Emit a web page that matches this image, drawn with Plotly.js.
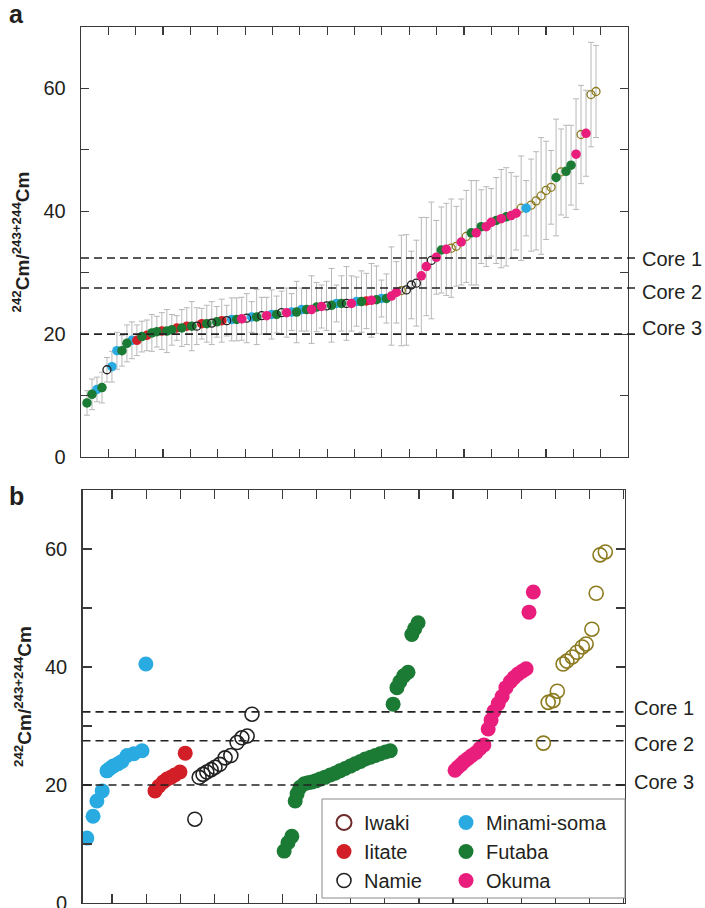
<!DOCTYPE html>
<html><head><meta charset="utf-8">
<script src="https://cdn.plot.ly/plotly-3.0.1.min.js"></script>
<style>html,body{margin:0;padding:0;background:#fff}#chart{width:705px;height:908px}</style>
</head><body><div id="chart"></div>
<script>
// ---------------- data ----------------
// panel b sample positions (order along the x axis) and values, per region
const minamiPos = [0.9, 2.2, 3.0, 4.1, 5.1, 5.7, 6.4, 7.4, 8.2, 9.3, 10.7, 12.4, 13.2];
const minamiVals = [11.0, 14.7, 17.3, 19.0, 22.4, 22.8, 23.2, 23.6, 24.0, 25.0, 25.3, 25.8, 40.5];
const minamiErr = [2.0, 2.5, 3.0, 3.0, 3.5, 2.5, 4.0, 3.0, 3.5, 3.0, 4.0, 3.0, 4.5];

const iitatePos = [15.1, 15.9, 16.8, 17.6, 18.4, 19.2, 20.3, 21.4];
const iitateVals = [19.0, 19.8, 20.5, 21.0, 21.3, 21.7, 22.2, 25.4];
const iitateErr = [2.5, 2.5, 3.0, 2.0, 3.0, 2.5, 3.5, 4.5];

const namiePos = [23.4, 24.3, 25.1, 25.9, 26.8, 27.6, 28.6, 29.7, 30.9, 32.2, 33.2, 34.3, 35.3];
const namieVals = [14.2, 21.3, 21.8, 22.2, 22.6, 23.0, 23.5, 24.6, 25.0, 27.2, 28.0, 28.3, 32.0];
const namieErr = [2.0, 3.0, 3.5, 2.5, 4.0, 3.0, 3.5, 4.0, 6.0, 9.0, 5.5, 7.0, 9.5];

const futabaPos = [42.0, 42.8, 43.6, 44.3, 44.7, 45.3, 46.2, 47.0, 47.8, 48.6, 49.5, 50.5, 51.6, 52.6, 53.6, 54.7, 55.8, 56.8, 57.9, 58.9, 60.0, 61.0, 62.0, 63.1, 64.1, 64.7, 65.5, 66.1, 66.9, 67.8, 68.6, 69.2, 69.9];
const futabaVals = [8.8, 10.2, 11.3, 17.3, 18.5, 19.6, 20.2, 20.4, 20.5, 20.7, 21.0, 21.3, 21.7, 22.0, 22.4, 22.8, 23.2, 23.6, 24.0, 24.4, 24.7, 25.0, 25.3, 25.6, 25.8, 33.7, 36.5, 37.5, 38.5, 39.1, 45.5, 46.5, 47.5];
const futabaErr = [2.0, 2.5, 2.5, 2.5, 3.0, 2.5, 3.0, 2.5, 3.5, 2.5, 3.0, 4.0, 3.0, 2.5, 3.5, 4.5, 3.0, 5.0, 3.5, 4.0, 6.0, 4.5, 5.0, 5.5, 4.0, 7.0, 8.5, 6.0, 7.0, 8.0, 9.5, 7.5, 6.5];

const okumaPos = [77.6, 78.2, 78.9, 79.5, 80.3, 81.1, 82.0, 82.8, 83.6, 84.5, 85.1, 85.7, 86.6, 87.4, 88.2, 89.1, 89.9, 90.7, 91.6, 92.4, 93.0, 93.9];
const okumaVals = [22.5, 23.0, 23.5, 24.0, 24.5, 25.0, 25.5, 26.2, 26.8, 29.5, 31.0, 32.5, 33.8, 35.0, 36.5, 37.5, 38.2, 38.8, 39.3, 39.7, 49.3, 52.7];
const okumaErr = [3.5, 3.0, 4.0, 5.5, 3.5, 4.5, 6.0, 8.0, 5.0, 9.5, 8.0, 6.0, 7.5, 7.0, 8.5, 6.5, 5.5, 8.0, 7.0, 6.0, 9.0, 7.0];

const iwakiPos = [96.0, 97.0, 98.0, 98.9, 100.1, 100.9, 102.0, 103.0, 104.1, 104.9, 106.1, 107.0, 107.8, 108.9];
const iwakiVals = [27.1, 34.0, 34.3, 35.9, 40.5, 41.0, 41.7, 42.5, 43.4, 43.9, 46.4, 52.5, 59.0, 59.5];
const iwakiErr = [9.0, 8.0, 6.5, 7.5, 8.5, 7.5, 8.0, 9.5, 8.0, 6.0, 7.0, 8.0, 8.5, 7.5];

const coreNames = ['Core 1', 'Core 2', 'Core 3'];
const coreVals = [32.4, 27.5, 20.0];

const yTickVals = [0, 20, 40, 60];
const yTickText = ['0', '20', '40', '60'];
const yMinorVals = [10, 30, 50];

// ---------------- styling ----------------
const FONT = 'Liberation Sans, Arial, Helvetica, sans-serif';
const TXT = '#231f20';
const groupsDef = [
  {key: 'Iwaki', vals: iwakiVals, pos: iwakiPos, err: iwakiErr, color: '#8b7a1e', open: true},
  {key: 'Minami-soma', vals: minamiVals, pos: minamiPos, err: minamiErr, color: '#29abe2', open: false},
  {key: 'Iitate', vals: iitateVals, pos: iitatePos, err: iitateErr, color: '#d21f27', open: false},
  {key: 'Futaba', vals: futabaVals, pos: futabaPos, err: futabaErr, color: '#1b7a34', open: false},
  {key: 'Namie', vals: namieVals, pos: namiePos, err: namieErr, color: '#222222', open: true},
  {key: 'Okuma', vals: okumaVals, pos: okumaPos, err: okumaErr, color: '#e91e7c', open: false}
];

// panel a: all samples ranked by value
const all = [];
groupsDef.forEach(g => g.vals.forEach((v, i) => all.push({g: g.key, v: v, e: g.err[i]})));
all.sort((a, b) => a.v - b.v);
all.forEach((p, i) => { p.rank = i + 1; });

const traces = [];
traces.push({
  x: all.map(p => p.rank), y: all.map(p => p.v), type: 'scatter', mode: 'markers',
  marker: {size: 1, color: 'rgba(0,0,0,0)'},
  error_y: {type: 'data', array: all.map(p => p.e), visible: true, color: '#b8b8b8', thickness: 1, width: 3},
  xaxis: 'x', yaxis: 'y', showlegend: false, hoverinfo: 'skip'
});
groupsDef.forEach(g => {
  const pts = all.filter(p => p.g === g.key);
  traces.push({
    x: pts.map(p => p.rank), y: pts.map(p => p.v), type: 'scatter', mode: 'markers',
    marker: g.open ? {symbol: 'circle-open', size: 8, color: g.color, line: {width: 1.3, color: g.color}}
                   : {symbol: 'circle', size: 9.5, color: g.color},
    xaxis: 'x', yaxis: 'y', showlegend: false
  });
});

// panel b traces (legend order: col 1 Iwaki, Iitate, Namie; col 2 Minami-soma, Futaba, Okuma)
const legendOf = {'Iitate': 'legend', 'Namie': 'legend', 'Minami-soma': 'legend2', 'Futaba': 'legend2', 'Okuma': 'legend2'};
traces.push({x: [null], y: [null], type: 'scatter', mode: 'markers', name: 'Iwaki',
  marker: {symbol: 'circle-open', size: 15, color: '#6e2a2a', line: {width: 2, color: '#6e2a2a'}},
  xaxis: 'x2', yaxis: 'y2', legend: 'legend', showlegend: true});
const bOrder = ['Iitate', 'Namie', 'Minami-soma', 'Futaba', 'Okuma', 'Iwaki'];
bOrder.forEach(k => {
  const g = groupsDef.find(d => d.key === k);
  traces.push({
    x: g.pos, y: g.vals, type: 'scatter', mode: 'markers', name: g.key,
    marker: g.open ? {symbol: 'circle-open', size: 14, color: g.color, line: {width: 1.6, color: g.color}}
                   : {symbol: 'circle', size: 15, color: g.color},
    xaxis: 'x2', yaxis: 'y2',
    legend: legendOf[k] || 'legend',
    showlegend: k !== 'Iwaki'
  });
});

// ---------------- layout ----------------
const W = 705, H = 908, ML = 81, MR = 77, MT = 27, MB = 5;
const PW = W - ML - MR, PH = H - MT - MB;
const px2fx = px => (px - ML) / PW;
const py2fy = py => (H - MB - py) / PH;

const N = all.length;
const pxPerRank = (596 - 87) / (N - 1);
const ar0 = 1 - (87 - ML) / pxPerRank;
const ar1 = ar0 + PW / pxPerRank;
const aTicks = [];
for (let k = 0; k <= 20; k++) aTicks.push(ar0 + k * (ar1 - ar0) / 20);

const bx0 = px2fx(82.5), bx1 = px2fx(625);
const bRange = [0, 113];
const bPx = (625 - 82.5) / 113;
const bTicks = [];
for (let k = 0; k <= 15; k++) bTicks.push((112 - 82.5 + 34.1 * k) / bPx);

const axLine = {showline: true, linecolor: '#3a3a3a', linewidth: 1.3, mirror: 'ticks', ticks: 'inside',
  tickcolor: '#3a3a3a', tickwidth: 1.2, showgrid: false, zeroline: false};

const yTitle = {text: '<b><sup>242</sup>Cm/<sup>243+244</sup>Cm</b>', font: {family: FONT, size: 19, color: TXT}, standoff: 8};

const shapes = [];
const annotations = [];
coreVals.forEach((v, i) => {
  shapes.push({type: 'line', xref: 'paper', yref: 'y', x0: 0, x1: px2fx(637), y0: v, y1: v,
    line: {color: '#222', width: 1.6, dash: '8px,5px'}});
  shapes.push({type: 'line', xref: 'paper', yref: 'y2', x0: bx0, x1: px2fx(628), y0: v, y1: v,
    line: {color: '#222', width: 1.6, dash: '8px,5px'}});
});
const aShift = [-1, -4, 6], bShift = [4, -3, 3];
coreNames.forEach((t, i) => {
  annotations.push({text: t, xref: 'paper', yref: 'y', x: px2fx(640), y: coreVals[i], yshift: aShift[i],
    xanchor: 'left', yanchor: 'middle', showarrow: false, font: {family: FONT, size: 20, color: TXT}});
  annotations.push({text: t, xref: 'paper', yref: 'y2', x: px2fx(632), y: coreVals[i], yshift: bShift[i],
    xanchor: 'left', yanchor: 'middle', showarrow: false, font: {family: FONT, size: 20, color: TXT}});
});
annotations.push({text: '<b>a</b>', xref: 'paper', yref: 'paper', x: px2fx(16), y: py2fy(14),
  xanchor: 'center', yanchor: 'middle', showarrow: false, font: {family: FONT, size: 25, color: TXT}});
annotations.push({text: '<b>b</b>', xref: 'paper', yref: 'paper', x: px2fx(16), y: py2fy(496),
  xanchor: 'center', yanchor: 'middle', showarrow: false, font: {family: FONT, size: 25, color: TXT}});

shapes.push({type: 'rect', xref: 'paper', yref: 'paper', x0: px2fx(322), x1: px2fx(625), y0: py2fy(898), y1: py2fy(799),
  line: {color: '#8a8a8a', width: 1}, fillcolor: '#ffffff', layer: 'above'});

const legendCommon = {yanchor: 'top', xanchor: 'left', bgcolor: 'rgba(0,0,0,0)', borderwidth: 0,
  font: {family: FONT, size: 20, color: TXT}, tracegroupgap: 0, orientation: 'v'};

const yCommon = {range: [0, 70], tickmode: 'array', tickvals: yTickVals, ticktext: yTickText,
  ticklabelstandoff: 10, ticklabeloverflow: 'allow', tickfont: {family: FONT, size: 20, color: TXT}, title: yTitle};

const layout = {
  width: W, height: H,
  margin: {l: ML, r: MR, t: MT, b: MB},
  paper_bgcolor: '#fff', plot_bgcolor: 'rgba(0,0,0,0)',
  font: {family: FONT, size: 20, color: TXT},
  showlegend: true,
  xaxis: Object.assign({}, axLine, {domain: [0, 1], range: [ar0, ar1], tickmode: 'array', tickvals: aTicks,
    showticklabels: false, ticklen: 8, anchor: 'y'}),
  yaxis: Object.assign({}, axLine, yCommon, {domain: [py2fy(457), 1], ticklen: 8, anchor: 'x',
    minor: {tickmode: 'array', tickvals: yMinorVals, ticks: 'inside', ticklen: 8, tickcolor: '#3a3a3a', tickwidth: 1.2, showgrid: false}}),
  xaxis2: Object.assign({}, axLine, {domain: [bx0, bx1], range: bRange, tickmode: 'array', tickvals: bTicks,
    showticklabels: false, ticklen: 9, anchor: 'y2'}),
  yaxis2: Object.assign({}, axLine, yCommon, {domain: [0, py2fy(490)], ticklen: 9, anchor: 'x2',
    minor: {tickmode: 'array', tickvals: yMinorVals, ticks: 'inside', ticklen: 9, tickcolor: '#3a3a3a', tickwidth: 1.2, showgrid: false}}),
  legend: Object.assign({}, legendCommon, {x: px2fx(324), y: py2fy(803)}),
  legend2: Object.assign({}, legendCommon, {x: px2fx(446), y: py2fy(803)}),
  shapes: shapes,
  annotations: annotations
};

Plotly.newPlot('chart', traces, layout, {staticPlot: true, displayModeBar: false});
</script>
</body></html>
